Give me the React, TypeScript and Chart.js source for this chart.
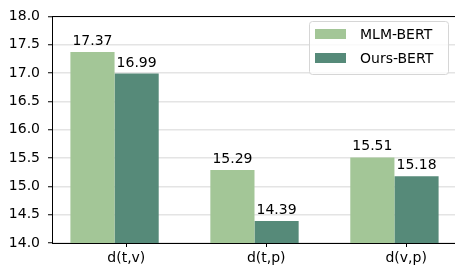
import React, { useEffect, useRef } from 'react';
import { Chart, registerables } from 'chart.js';

Chart.register(...registerables);

const categories = ['d(t,v)', 'd(t,p)', 'd(v,p)'];
const seriesLabels = ['MLM-BERT', 'Ours-BERT'];
const mlmBert = [17.37, 15.29, 15.51];
const oursBert = [16.99, 14.39, 15.18];
const yMin = 14.0;
const yMax = 18.0;
const yStep = 0.5;

const colors = ['#a3c697', '#568a79'];
const FONT = 'DejaVu Sans';
const TICK_SHIFT = 0.084;

const spinePlugin = {
  id: 'spines',
  afterDraw(chart: any) {
    const { ctx, chartArea } = chart;
    ctx.save();
    ctx.strokeStyle = '#000';
    ctx.lineWidth = 1;
    ctx.beginPath();
    ctx.moveTo(chartArea.left, Math.round(chartArea.top) + 0.5);
    ctx.lineTo(chartArea.right, Math.round(chartArea.top) + 0.5);
    ctx.moveTo(Math.round(chartArea.right) + 0.5, chartArea.top);
    ctx.lineTo(Math.round(chartArea.right) + 0.5, chartArea.bottom);
    ctx.stroke();
    ctx.restore();
  },
};

const valueLabelPlugin = {
  id: 'valueLabels',
  afterDatasetsDraw(chart: any) {
    const { ctx } = chart;
    ctx.save();
    ctx.font = `14px "${FONT}"`;
    ctx.fillStyle = '#000';
    ctx.textAlign = 'center';
    ctx.textBaseline = 'alphabetic';
    chart.data.datasets.forEach((ds: any, di: number) => {
      const meta = chart.getDatasetMeta(di);
      meta.data.forEach((el: any, i: number) => {
        const v = ds.data[i].y;
        ctx.fillText(v.toFixed(2), el.x, el.y - 7);
      });
    });
    ctx.restore();
  },
};

const legendPlugin = {
  id: 'boxLegend',
  afterDraw(chart: any) {
    const { ctx } = chart;
    const x = 309.5, y = 21.5, w = 139, h = 53, r = 3;
    ctx.save();
    ctx.beginPath();
    ctx.moveTo(x + r, y);
    ctx.lineTo(x + w - r, y);
    ctx.arcTo(x + w, y, x + w, y + r, r);
    ctx.lineTo(x + w, y + h - r);
    ctx.arcTo(x + w, y + h, x + w - r, y + h, r);
    ctx.lineTo(x + r, y + h);
    ctx.arcTo(x, y + h, x, y + h - r, r);
    ctx.lineTo(x, y + r);
    ctx.arcTo(x, y, x + r, y, r);
    ctx.closePath();
    ctx.fillStyle = 'rgba(255,255,255,0.8)';
    ctx.fill();
    ctx.strokeStyle = '#d6d6d6';
    ctx.lineWidth = 1;
    ctx.stroke();
    ctx.font = `14px "${FONT}"`;
    ctx.textAlign = 'left';
    ctx.textBaseline = 'middle';
    chart.data.datasets.forEach((ds: any, i: number) => {
      const cy = 34 + i * 24;
      ctx.fillStyle = ds.backgroundColor;
      ctx.fillRect(315, cy - 5, 31, 10);
      ctx.fillStyle = '#000';
      ctx.fillText(ds.label, 360, cy + 1);
    });
    ctx.restore();
  },
};

export default function App() {
  const ref = useRef<HTMLCanvasElement | null>(null);

  useEffect(() => {
    if (!ref.current) return;
    const series = [mlmBert, oursBert];
    const chart = new Chart(ref.current, {
      type: 'bar',
      data: {
        datasets: series.map((vals, si) => ({
          label: seriesLabels[si],
          data: vals.map((v, i) => ({ x: i, y: v })),
          backgroundColor: colors[si],
          borderWidth: 0,
          categoryPercentage: 0.631,
          barPercentage: 1.0,
        })),
      },
      options: {
        animation: false,
        responsive: true,
        maintainAspectRatio: false,
        layout: { padding: { top: 14, right: 1, left: 0, bottom: 0 } },
        plugins: {
          legend: { display: false },
          tooltip: { enabled: false },
        },
        scales: {
          x: {
            type: 'linear',
            offset: false,
            bounds: 'data',
            min: -0.447,
            max: 2.447,
            afterBuildTicks: (scale: any) => {
              scale.ticks = categories.map((_, i) => ({ value: i + TICK_SHIFT }));
            },
            afterFit: (scale: any) => {
              scale.height = 28;
            },
            ticks: {
              callback: (v: any) => categories[Math.round(Number(v) - TICK_SHIFT)],
              font: { family: FONT, size: 14 },
              color: '#000',
              padding: 3,
              maxRotation: 0,
              autoSkip: false,
            },
            grid: {
              offset: false,
              drawOnChartArea: false,
              drawTicks: true,
              tickLength: 4,
              tickColor: '#000',
            },
            border: { display: true, color: '#000', width: 1 },
          },
          y: {
            type: 'linear',
            min: yMin,
            max: yMax,
            afterFit: (scale: any) => {
              scale.width = 52;
            },
            ticks: {
              stepSize: yStep,
              callback: (v: any) => Number(v).toFixed(1),
              font: { family: FONT, size: 14 },
              color: '#000',
              padding: 8,
            },
            grid: {
              color: '#e4e4e4',
              lineWidth: 1.5,
              drawTicks: true,
              tickLength: 4,
              tickColor: '#000',
              tickWidth: 1,
            },
            border: { display: true, color: '#000', width: 1 },
          },
        },
      },
      plugins: [spinePlugin, valueLabelPlugin, legendPlugin],
    } as any);
    return () => chart.destroy();
  }, []);

  return (
    <div style={{ position: 'fixed', left: 0, top: 0, width: 455, height: 271, overflow: 'hidden', background: '#fff' }}>
      <div style={{ position: 'relative', width: 458, height: 271 }}>
        <canvas ref={ref} />
      </div>
    </div>
  );
}
